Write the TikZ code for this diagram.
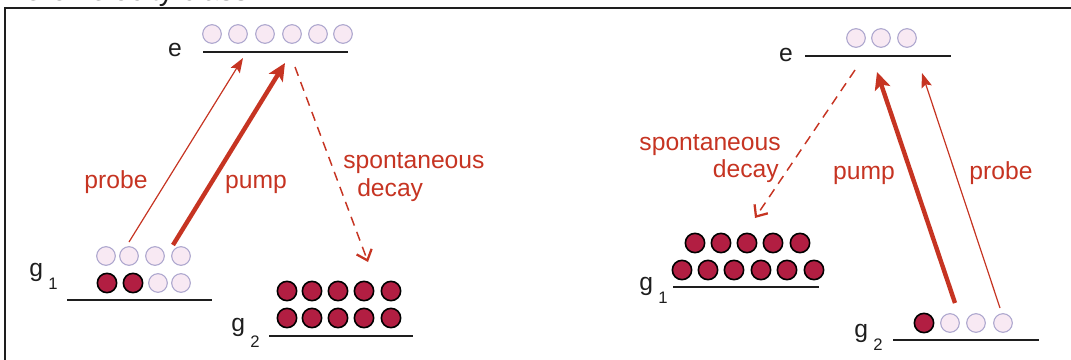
\documentclass[tikz,border=0pt]{standalone}
\usepackage{fontspec}
\setmainfont{Liberation Sans}
\usetikzlibrary{arrows.meta}
\definecolor{lasered}{RGB}{198,52,34}
\definecolor{atomfill}{RGB}{178,30,66}
\definecolor{emptyfill}{RGB}{248,233,243}
\definecolor{emptyline}{RGB}{172,166,206}
\definecolor{ink}{RGB}{30,30,30}
\begin{document}
\begin{tikzpicture}[x=0.75pt,y=-0.75pt,
  level/.style={line width=1.6pt, draw=ink},
  full/.style={circle, draw=black, line width=1.2pt, fill=atomfill, minimum size=14.5pt, inner sep=0pt},
  vacant/.style={circle, draw=emptyline, line width=0.8pt, fill=emptyfill, minimum size=14pt, inner sep=0pt},
  lbl/.style={font=\fontsize{18.5}{20}\selectfont, text=ink, inner sep=0pt},
  redlbl/.style={font=\fontsize{18.5}{20}\selectfont, text=lasered, inner sep=0pt},
  pumparrow/.style={draw=lasered, line width=3.3pt, -{Stealth[length=13pt,width=12pt,inset=3pt]}},
  probearrow/.style={draw=lasered, line width=0.9pt, -{Stealth[length=11pt,width=8pt,inset=2pt]}},
  decayarrow/.style={draw=lasered, line width=1.1pt, dash pattern=on 7pt off 5pt,
    -{Straight Barb[length=7pt,width=12pt,line width=1.7pt]}}
]
\useasboundingbox (0,0) rectangle (1071,360);

% frame and heading, cut at the page edge
\begin{scope}
  \clip (0,0) rectangle (1071,360);
  \node[font=\fontsize{22}{24}\selectfont, text=ink, anchor=base west, inner sep=0pt] (heading) at (7,0.5) {Zero velocity class};
  \draw[line width=2.2pt, draw=ink] (5,8) rectangle (1085,372);
\end{scope}

% ---------- left scheme ----------
% levels
\coordinate (eLa) at (203,52);  \coordinate (eLb) at (348,52);
\coordinate (gLa) at (67,300);  \coordinate (gLb) at (212,300);
\coordinate (hLa) at (269,336); \coordinate (hLb) at (413,336);
\draw[level] (eLa) -- (eLb);
\draw[level] (gLa) -- (gLb);
\draw[level] (hLa) -- (hLb);
\node[lbl, anchor=base] (eLlbl) at (175,57) {e};
\node[lbl, anchor=base west] (gLlbl) at (29,276) {g\hspace{4pt}\raisebox{-10pt}{\fontsize{12.5}{12}\selectfont 1}};
\node[lbl, anchor=base west] (hLlbl) at (231,331) {g\hspace{4pt}\raisebox{-12pt}{\fontsize{12.5}{12}\selectfont 2}};

% populations
\foreach \x [count=\i] in {212,238,265,292,318,343}
  \node[vacant] (eLat\i) at (\x,34) {};
\foreach \x [count=\i] in {106,129,155,181}
  \node[vacant] (gLtop\i) at (\x,256) {};
\node[full]   (gLbot1) at (107,283) {};
\node[full]   (gLbot2) at (133,283) {};
\node[vacant] (gLbot3) at (158,283) {};
\node[vacant] (gLbot4) at (181,283) {};
\foreach \x [count=\i] in {287,312,338,364,391} {
  \node[full] (hLtop\i) at (\x,291) {};
  \node[full] (hLbot\i) at (\x,318) {};
}

% transitions
\coordinate (prLs) at (129,242); \coordinate (prLe) at (243,58);
\coordinate (puLs) at (173,245); \coordinate (puLe) at (285,63);
\coordinate (dcLs) at (295,67);  \coordinate (dcLe) at (368,262);
\draw[probearrow] (prLs) -- (prLe);
\draw[pumparrow]  (puLs) -- (puLe);
\draw[decayarrow] (dcLs) -- (dcLe);
\node[redlbl, anchor=base] (prLlbl) at (116,188) {probe};
\node[redlbl, anchor=base] (puLlbl) at (256,188) {pump};
\node[redlbl, anchor=base west] (spLlbl) at (343,168) {spontaneous};
\node[redlbl, anchor=base west] (dyLlbl) at (357,196) {decay};

% ---------- right scheme ----------
\coordinate (eRa) at (805,56);  \coordinate (eRb) at (951,56);
\coordinate (gRa) at (673,287); \coordinate (gRb) at (819,287);
\coordinate (hRa) at (893,340); \coordinate (hRb) at (1039,340);
\draw[level] (eRa) -- (eRb);
\draw[level] (gRa) -- (gRb);
\draw[level] (hRa) -- (hRb);
\node[lbl, anchor=base] (eRlbl) at (786,62) {e};
\node[lbl, anchor=base west] (gRlbl) at (639,290) {g\hspace{4pt}\raisebox{-10pt}{\fontsize{12.5}{12}\selectfont 1}};
\node[lbl, anchor=base west] (hRlbl) at (854,337) {g\hspace{4pt}\raisebox{-10pt}{\fontsize{12.5}{12}\selectfont 2}};

\foreach \x [count=\i] in {856,881,907}
  \node[vacant] (eRat\i) at (\x,38) {};
\foreach \x [count=\i] in {695,721,747,773,800}
  \node[full] (gRtop\i) at (\x,243) {};
\foreach \x [count=\i] in {682,708,734,761,787,814}
  \node[full] (gRbot\i) at (\x,270) {};
\node[full]   (hRat1) at (924,323) {};
\node[vacant] (hRat2) at (950,323) {};
\node[vacant] (hRat3) at (976,323) {};
\node[vacant] (hRat4) at (1003,323) {};

\coordinate (dcRs) at (855,70);  \coordinate (dcRe) at (755,218);
\coordinate (puRs) at (955,303); \coordinate (puRe) at (877,72);
\coordinate (prRs) at (1000,308); \coordinate (prRe) at (922,73);
\draw[decayarrow] (dcRs) -- (dcRe);
\draw[pumparrow]  (puRs) -- (puRe);
\draw[probearrow] (prRs) -- (prRe);
\node[redlbl, anchor=base east] (spRlbl) at (781,150) {spontaneous};
\node[redlbl, anchor=base east] (dyRlbl) at (779,177) {decay};
\node[redlbl, anchor=base] (puRlbl) at (864,179) {pump};
\node[redlbl, anchor=base] (prRlbl) at (1001,179) {probe};
\end{tikzpicture}
\end{document}
